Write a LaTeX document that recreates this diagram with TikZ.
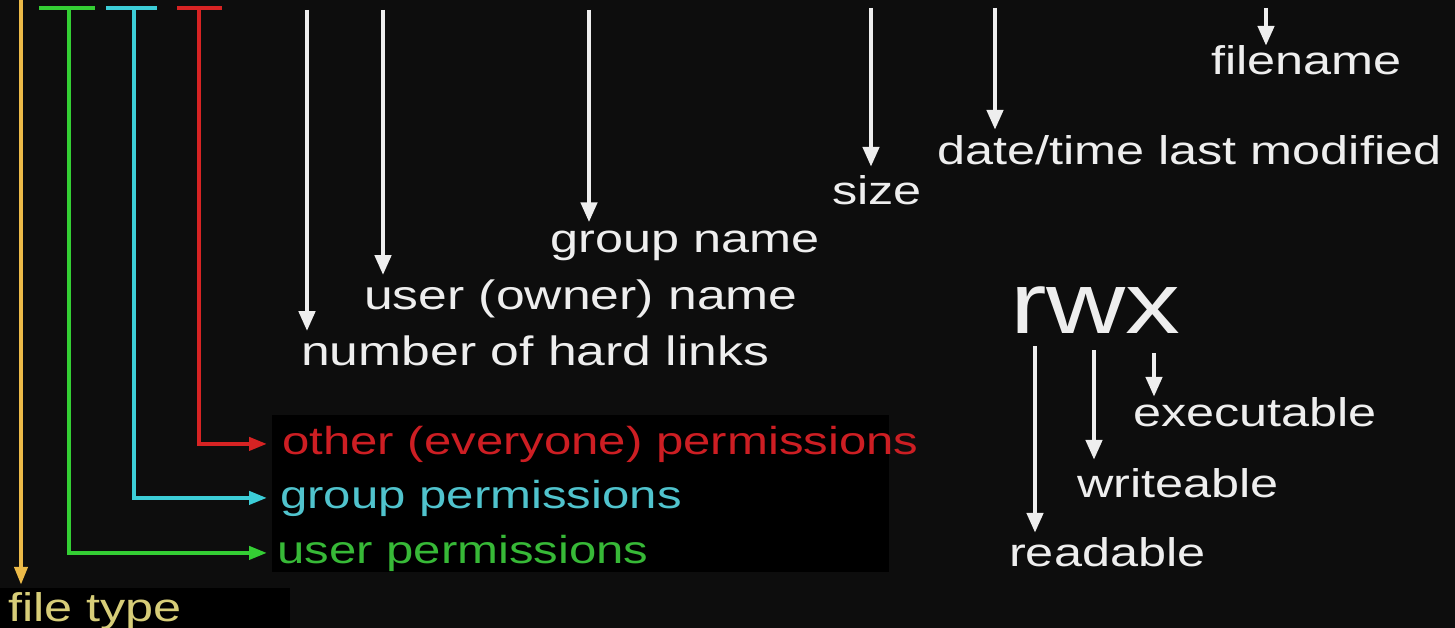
\documentclass[tikz,border=0pt]{standalone}
\usepackage{fontspec}
\setmainfont{Liberation Sans}[FakeStretch=1.26]
\usetikzlibrary{arrows.meta}
\definecolor{bg}{RGB}{13,13,13}
\definecolor{boxbg}{RGB}{0,0,0}
\definecolor{ylw}{RGB}{236,186,72}
\definecolor{grn}{RGB}{52,206,52}
\definecolor{cyn}{RGB}{60,205,215}
\definecolor{rd}{RGB}{215,35,35}
\definecolor{wht}{RGB}{238,238,238}
\definecolor{rdtext}{RGB}{205,30,35}
\definecolor{cytext}{RGB}{80,195,205}
\definecolor{grtext}{RGB}{55,185,55}
\definecolor{fttext}{RGB}{215,205,120}
\begin{document}
\begin{tikzpicture}[x=1pt,y=-1pt,
  lbl/.style={anchor=base west, inner sep=0pt, font=\fontsize{40}{48}\selectfont, text=wht},
  smallfont/.style={font=\fontsize{39}{47}\selectfont},
  largefont/.style={font=\fontsize{41}{49}\selectfont},
  bigfont/.style={font=\fontsize{87}{100}\selectfont},
  warrow/.style={draw=wht, line width=4.5pt, -{Triangle[width=16pt,length=20pt]}},
  carrow/.style={line width=4pt, -{Triangle[width=13pt,length=18pt]}},
  bar/.style={line width=4pt}]
\useasboundingbox (0,0) rectangle (1455,628);
\fill[bg] (0,0) rectangle (1455,628);
\fill[boxbg] (272,415) rectangle (889,572);
\fill[boxbg] (0,588) rectangle (290,628);

% labels
\node[lbl] (fname) at (1211,75) {filename};
\node[lbl] (dtime) at (937,165) {date/time last modified};
\node[lbl] (size) at (832,205) {size};
\node[lbl] (gname) at (550,252) {group name};
\node[lbl, largefont] (uname) at (364,309) {user (owner) name};
\node[lbl, largefont] (links) at (301,365) {number of hard links};
\node[lbl, bigfont] (rwx) at (1010,333) {rwx};
\node[lbl] (exec) at (1133,426) {executable};
\node[lbl] (write) at (1077,497) {writeable};
\node[lbl] (read) at (1009,566) {readable};
\node[lbl, smallfont, text=rdtext] (operm) at (282,454) {other (everyone) permissions};
\node[lbl, smallfont, text=cytext] (gperm) at (280,508) {group permissions};
\node[lbl, smallfont, text=grtext] (uperm) at (277,563) {user permissions};
\node[lbl, text=fttext] (ftype) at (8,621) {file type};

% white arrow starts
\coordinate (aLinks) at (307,10);
\coordinate (aUser) at (383,10);
\coordinate (aGroup) at (589,10);
\coordinate (aSize) at (871,8);
\coordinate (aDate) at (995,8);
\coordinate (aFile) at (1266,8);
\coordinate (aR) at (1035,346);
\coordinate (aW) at (1094,350);
\coordinate (aX) at (1154,353);

\draw[warrow, shorten >=4pt] (aLinks) -- (aLinks |- links.north);
\draw[warrow, shorten >=4pt] (aUser) -- (aUser |- uname.north);
\draw[warrow, shorten >=8pt] (aGroup) -- (aGroup |- gname.north);
\draw[warrow, shorten >=9pt] (aSize) -- (aSize |- size.north);
\draw[warrow, shorten >=6pt] (aDate) -- (aDate |- dtime.north);
\draw[warrow] (aFile) -- (aFile |- fname.north);
\draw[warrow, shorten >=4pt] (aR) -- (aR |- read.north);
\draw[warrow, shorten >=8pt] (aW) -- (aW |- write.north);
\draw[warrow] (aX) -- (aX |- exec.north);

% coloured permission lines
\coordinate (ytop) at (21,0);
\coordinate (gbarL) at (39,8);
\coordinate (gbarR) at (95,8);
\coordinate (gtop) at (69,8);
\coordinate (cbarL) at (106,8);
\coordinate (cbarR) at (157,8);
\coordinate (ctop) at (134,8);
\coordinate (rbarL) at (177,8);
\coordinate (rbarR) at (222,8);
\coordinate (rtop) at (199,8);

\draw[bar, grn] (gbarL) -- (gbarR);
\draw[bar, cyn] (cbarL) -- (cbarR);
\draw[bar, rd] (rbarL) -- (rbarR);

\draw[carrow, ylw, shorten >=7pt] (ytop) -- (ytop |- ftype.north);
\draw[carrow, grn, shorten >=10pt] (gtop) -- (gtop |- uperm.west) -- (uperm.west);
\draw[carrow, cyn, shorten >=13pt] (ctop) -- (ctop |- gperm.west) -- (gperm.west);
\draw[carrow, rd, shorten >=15pt] (rtop) -- (rtop |- operm.west) -- (operm.west);
\end{tikzpicture}
\end{document}
